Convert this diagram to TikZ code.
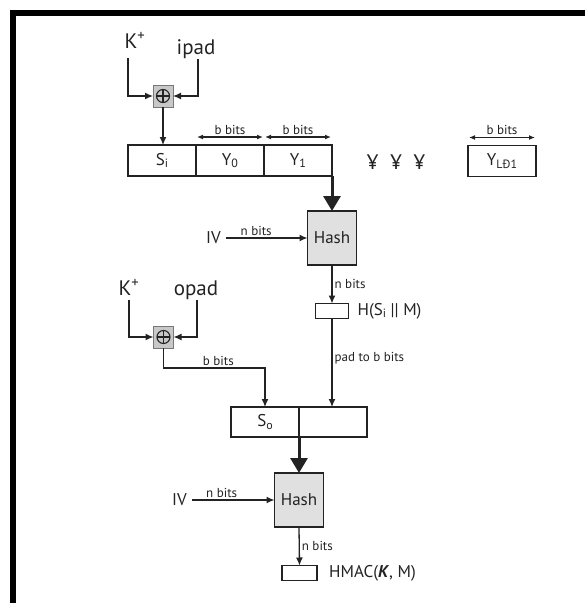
\documentclass[tikz,border=0pt]{standalone}
\usepackage{fontspec}
\setmainfont{PT Sans}
\usepackage{tikz}
\usetikzlibrary{arrows.meta,positioning}
\definecolor{inkgray}{RGB}{35,35,35}
\definecolor{hashfill}{RGB}{224,224,224}
\definecolor{xorfill}{RGB}{200,200,200}
\definecolor{xordraw}{RGB}{120,120,120}
\newcommand{\fbig}{\fontsize{21}{24}\selectfont}
\newcommand{\fmid}{\fontsize{17}{20}\selectfont}
\newcommand{\fsmall}{\fontsize{13}{15}\selectfont}
\newcommand{\dn}[1]{\raisebox{-0.3ex}{\fontsize{12}{12}\selectfont #1}}
\tikzset{
  blkbox/.style={rectangle,draw=inkgray,line width=1.5pt,outer sep=0pt,inner sep=0pt,minimum width=68pt,minimum height=31pt,font=\fmid,text=inkgray},
  hashnode/.style={blkbox,fill=hashfill,minimum width=49pt,minimum height=54pt},
  outbox/.style={blkbox,minimum width=33pt,minimum height=15pt},
  xornode/.style={rectangle,draw=xordraw,fill=xorfill,line width=1pt,minimum width=20pt,minimum height=22pt,inner sep=0pt,outer sep=0pt,
    path picture={
      \draw[inkgray,line width=1.1pt] (path picture bounding box.center) circle (6.5pt);
      \draw[inkgray,line width=1.1pt] ([xshift=-6.5pt]path picture bounding box.center) -- ([xshift=6.5pt]path picture bounding box.center);
      \draw[inkgray,line width=1.1pt] ([yshift=-6.5pt]path picture bounding box.center) -- ([yshift=6.5pt]path picture bounding box.center);
    }},
  keylbl/.style={inner sep=1pt,font=\fbig,text=inkgray,anchor=base},
  txtlbl/.style={inner sep=1pt,font=\fmid,text=inkgray},
  ivlbl/.style={txtlbl,anchor=east,inner xsep=5pt},
  bitlbl/.style={inner sep=2pt,font=\fsmall,text=inkgray},
  arr/.style={-{Latex[length=8pt,width=7pt]},line width=1.3pt,draw=inkgray},
  thickarr/.style={-{Triangle[length=15pt,width=17pt]},line width=3pt,draw=inkgray},
  dblarr/.style={{Latex[length=6pt,width=5pt]}-{Latex[length=6pt,width=5pt]},line width=1.2pt,draw=inkgray,shorten <=1pt,shorten >=1pt}
}

\begin{document}
\begin{tikzpicture}[x=1pt,y=-1pt]
  \useasboundingbox (0,0) rectangle (585,603);
  \draw[line width=6.5pt] (13,603) -- (13,13) -- (585,13);

  \node[keylbl] (kin) at (135,48) {K\textsuperscript{+}};
  \node[keylbl] (ipad) at (196,54) {ipad};
  \node[xornode] (xor1) at (163,96) {};
  \coordinate (kinend) at (128,58);
  \node[blkbox] (si) at (162,160.5) {S\dn{i}};
  \node[blkbox,right=0pt of si] (y0) {Y\dn{0}};
  \node[blkbox,right=0pt of y0] (y1) {Y\dn{1}};
  \node[txtlbl,font=\fbig] (dots) at (396,162) {¥\hspace{12pt}¥\hspace{12pt}¥};
  \node[blkbox] (ylast) at (502,161) {Y\dn{LÐ1}};
  \node[hashnode] (hash1) at (332,238) {Hash};
  \node[ivlbl] (iv1) at (226,238) {IV};
  \node[outbox] (hout) at (332,311) {};
  \node[txtlbl,right=8pt of hout] (hlbl) {H(S\dn{i} || M)};

  \node[keylbl] (kout) at (129,295) {K\textsuperscript{+}};
  \node[keylbl] (opad) at (196,295) {opad};
  \node[xornode] (xor2) at (163.5,337) {};
  \coordinate (koutend) at (129,300);
  \node[blkbox,minimum height=30pt] (so) at (265,422) {S\dn{o}};
  \node[blkbox,minimum height=30pt,right=0pt of so] (rbox) {};
  \node[hashnode] (hash2) at (299,500) {Hash};
  \node[ivlbl] (iv2) at (192,500) {IV};
  \node[outbox,minimum width=35pt] (mac) at (299.5,573) {};
  \node[txtlbl,right=11pt of mac] (maclbl) {HMAC(\textbf{\textit{K}}, M)};

  \draw[arr] (kinend) |- (xor1.west);
  \draw[arr] ([xshift=2pt]ipad.south) |- (xor1.east);
  \draw[arr] (xor1.south) -- (xor1.south |- si.north);
  \draw[dblarr] ([yshift=8pt]y0.north west) -- node[bitlbl,above]{b bits} ([yshift=8pt]y0.north east);
  \draw[dblarr] ([yshift=8pt]y1.north west) -- node[bitlbl,above]{b bits} ([yshift=8pt]y1.north east);
  \draw[dblarr] ([yshift=8pt]ylast.north west) -- node[bitlbl,above]{b bits} ([yshift=8pt]ylast.north east);
  \draw[thickarr] (y1.south east) -- (hash1.north);
  \draw[arr] (iv1.east) -- node[bitlbl,above,pos=0.37]{n bits} (hash1.west);
  \draw[arr] (hash1.south) -- node[bitlbl,right]{n bits} (hout.north);
  \draw[arr] (hout.south) -- node[bitlbl,right,pos=0.45]{pad to b bits} (hout.south |- rbox.north);

  \draw[arr] (koutend) |- (xor2.west);
  \draw[arr] ([xshift=1pt]opad.south) |- (xor2.east);
  \draw[arr] (xor2.south) -- ++(0,20) -| node[bitlbl,above,pos=0.27]{b bits} (so.north);
  \draw[thickarr] (so.south east) -- (hash2.north);
  \draw[arr] (iv2.east) -- node[bitlbl,above,pos=0.36]{n bits} (hash2.west);
  \draw[arr] (hash2.south) -- node[bitlbl,right]{n bits} (mac.north);
\end{tikzpicture}
\end{document}
